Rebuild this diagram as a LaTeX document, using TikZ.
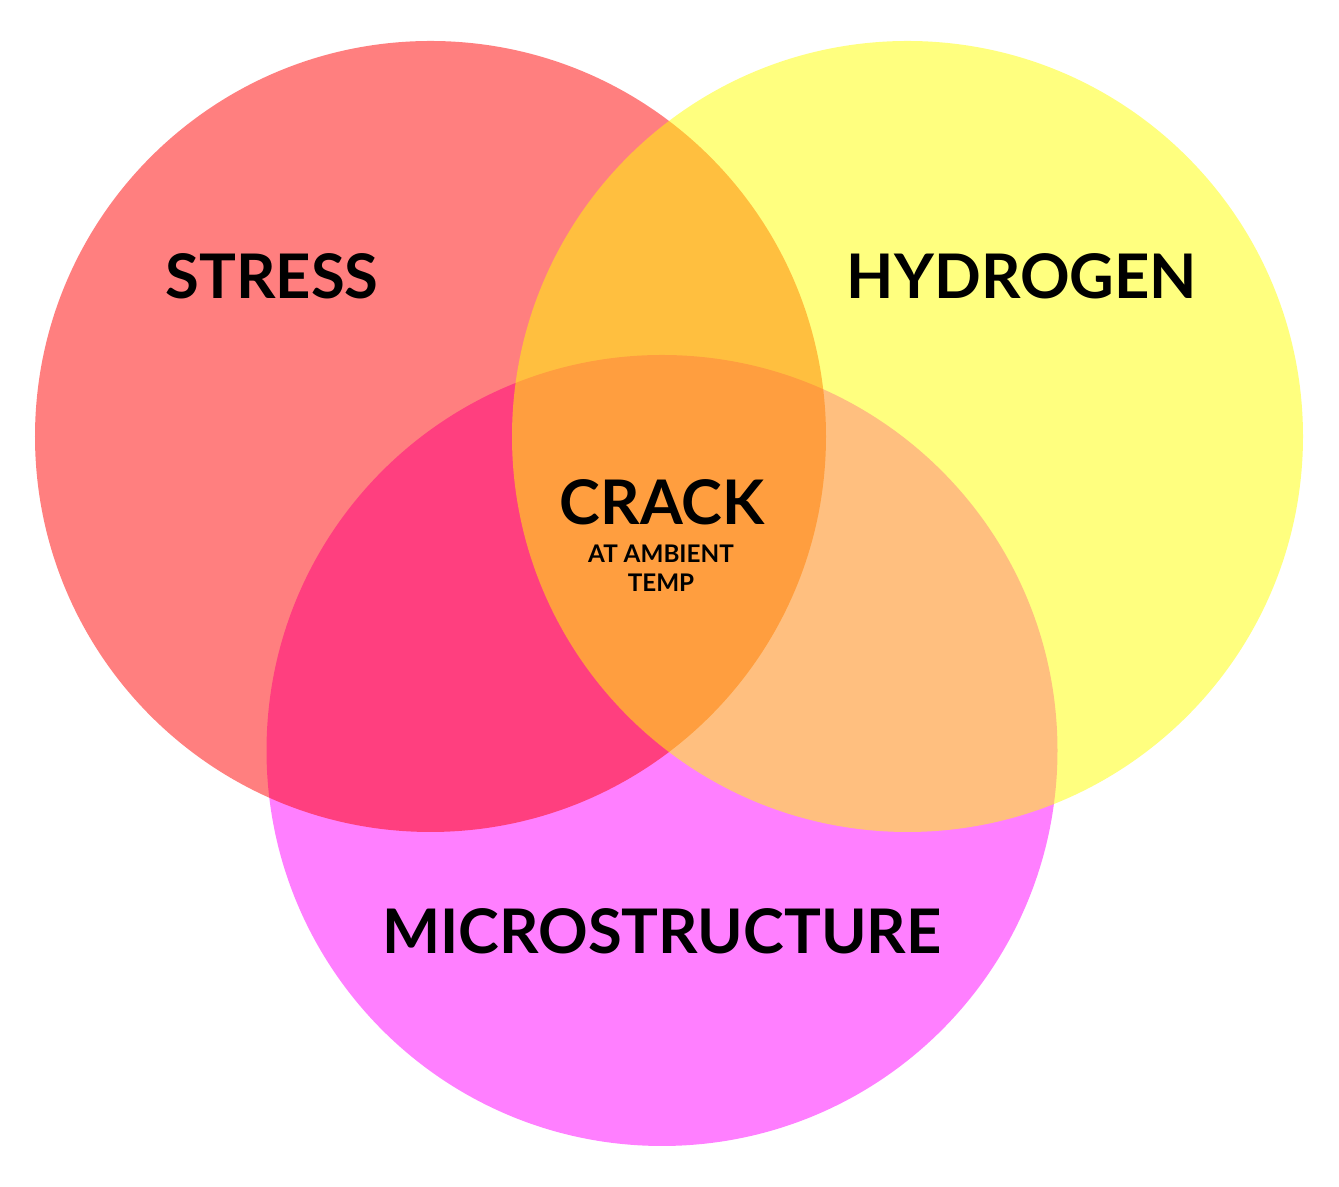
\documentclass[tikz,border=0pt]{standalone}
\usepackage{fontspec}
\setmainfont{Lato}
\usepackage{tikz}
\usepackage{xcolor}
\definecolor{stressred}{RGB}{255,0,0}
\definecolor{hydroyellow}{RGB}{255,255,0}
\definecolor{micromagenta}{RGB}{255,0,255}

\begin{document}
\begin{tikzpicture}[
  blob/.style={fill opacity=0.5},
  biglabel/.style={font=\fontsize{17.5}{20}\selectfont\bfseries},
  smalllabel/.style={font=\fontsize{6.9}{8.2}\selectfont\bfseries, align=center}]
\useasboundingbox (0,0) rectangle (13.39,11.87);
\fill[blob,micromagenta] (6.62,4.365) circle (3.955);
\fill[blob,stressred] (4.305,7.505) circle (3.955);
\fill[blob,hydroyellow] (9.075,7.505) circle (3.955);
\node[biglabel] (stress) at (2.72,9.11) {STRESS};
\node[biglabel] (hydrogen) at (10.22,9.11) {HYDROGEN};
\node[biglabel] (micro) at (6.62,2.56) {MICROSTRUCTURE};
\node[biglabel] (crack) at (6.62,6.85) {CRACK};
\node[smalllabel] (ambient) at (6.61,6.19) {AT AMBIENT\\TEMP};
\end{tikzpicture}
\end{document}
